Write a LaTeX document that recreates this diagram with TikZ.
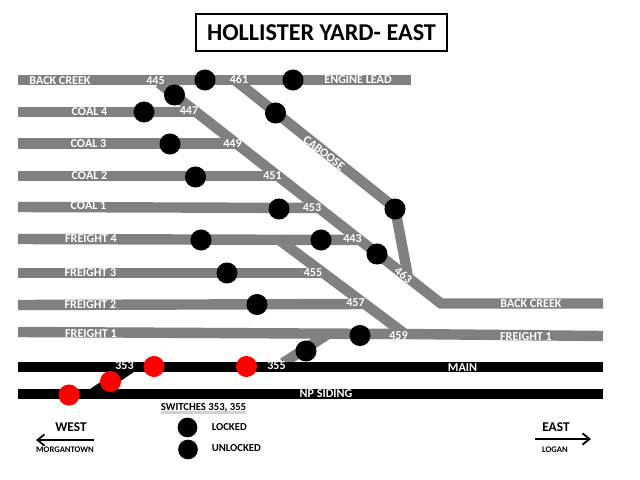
\documentclass[tikz,border=0pt]{standalone}
\usepackage{fontspec}
\setmainfont{Carlito}
\usetikzlibrary{arrows.meta}
\definecolor{trackgray}{HTML}{808080}

\begin{document}
\begin{tikzpicture}[
      x=0.025cm, y=-0.025cm,
      track/.style={draw=trackgray, line width=7.4pt},
      mainline/.style={draw=black, line width=7.4pt},
      sw/.style={circle, fill=black, inner sep=0pt, minimum size=15pt},
      swred/.style={circle, fill=red, inner sep=0pt, minimum size=15pt},
      lab/.style={font=\fontsize{8.6}{10}\selectfont\bfseries, text=white, inner sep=0pt},
      key/.style={font=\fontsize{7.6}{9}\selectfont\bfseries, inner sep=0pt},
      small/.style={font=\fontsize{6.1}{7}\selectfont\bfseries, inner sep=0pt},
      dirlab/.style={font=\fontsize{9.5}{11}\selectfont\bfseries, inner sep=0pt},
      dirarrow/.style={-{Straight Barb[length=5pt, width=8pt]}, line width=1.3pt},
    ]
    \useasboundingbox (0,0) rectangle (640,480);

    % ---- Title ----
    \node[draw, line width=1.6pt, font=\fontsize{17.2}{20}\selectfont\bfseries,
      inner sep=0pt, minimum width=178pt, minimum height=26pt] (title) at (321.5,32.5) {HOLLISTER YARD- EAST};

    % ---- Track ends ----
    \foreach \name/\x/\y in {
        BCw/18/80, ELe/411/80, TopA/159/83, TopB/235/80,
        Cfour/18/112, CfourE/197/112, Cthree/18/143.5, CthreeE/236/143.5,
        Ctwo/18/176, CtwoE/276/176, Cone/18/207, ConeE/317/208,
        Ffour/18/239, FfourE/358/240, Fthree/18/273, FthreeE/326/273,
        Ftwo/18/305, FtwoE/367/304, Fone/18/332, FoneM/405/334, FoneE/603/336,
        BCj/441/303.5, BCe/603/303.5, Kink/395/208, FdiagA/278/239,
        Kend/408/277, Xa/283/363, Xb/328/334, Mw/18/367, Me/603/367,
        Nw/18/394, Ne/603/394, Ya/92/394, Yb/132/367}{
        \coordinate (\name) at (\x,\y);
      }

    % ---- Gray tracks ----
    \draw[track] (BCw) -- (ELe);
    \draw[track] (Cfour) -- (CfourE);
    \draw[track] (Cthree) -- (CthreeE);
    \draw[track] (Ctwo) -- (CtwoE);
    \draw[track] (Cone) -- (ConeE);
    \draw[track] (Ffour) -- (FfourE);
    \draw[track] (Fthree) -- (FthreeE);
    \draw[track] (Ftwo) -- (FtwoE);
    \draw[track] (Fone) -- (FoneM) -- (FoneE);
    \draw[track] (TopA) -- (BCj) -- (BCe);
    \draw[track] (TopB) -- (Kink) -- (Kend);
    \draw[track] (FdiagA) -- (FoneM);
    \draw[track] (Xa) -- (Xb);

    % ---- Black tracks ----
    \draw[mainline] (Mw) -- (Me);
    \draw[mainline] (Nw) -- (Ne);
    \draw[mainline] (Ya) -- (Yb);

    % ---- Switches ----
    \foreach \name/\x/\y in {
        a/205/80, b/293/80, c/174.5/95, d/144/112, e/170/144, f/195.5/177,
        g/279/209, h/275.5/113, i/395/209, j/201/240, k/321/240, l/377/254,
        m/227/273, n/257/304.5, o/360/335.5, p/306/351}{
        \node[sw] (sw\name) at (\x,\y) {};
      }
    \foreach \name/\x/\y in {
        a/154/366.5, b/246.5/366.5, c/110.5/381.5, d/69/395}{
        \node[swred] (red\name) at (\x,\y) {};
      }

    % ---- Track labels ----
    \foreach \name/\x/\y/\lab in {
        bcw/60/80.5/BACK CREEK, el/358/79.5/ENGINE LEAD, cf/89.5/112/COAL 4,
        ct/88.5/144/COAL 3, ctw/89.5/176/COAL 2, co/88.5/206/COAL 1,
        ff/91/239/FREIGHT 4, fth/90.5/273/FREIGHT 3, ftw/90.5/305/FREIGHT 2,
        fo/91/333.5/FREIGHT 1, bce/531/303.5/BACK CREEK, foe/526/336.5/FREIGHT 1,
        main/462.5/368/MAIN, np/326/394/NP SIDING,
        n445/155.5/80.5/445, n461/239/79.5/461, n447/189/110.5/447,
        n449/232.5/144/449, n451/272.5/176/451, n453/312/208/453,
        n443/352.5/239/443, n455/313/273/455, n457/355.5/303/457,
        n459/398.5/335.5/459, n353/124.5/366/353, n355/276.5/366/355}{
        \node[lab] (lab\name) at (\x,\y) {\lab};
      }
    \node[lab, rotate=-38] (labcab) at (324,153) {CABOOSE};
    \node[lab, rotate=-38] (lab463) at (403.5,275) {463};

    % ---- Key ----
    \fill[gray!35] (161,410.5) rectangle (246,413.5);
    \node[key] (keyhead) at (203.5,407.5) {SWITCHES 353, 355};
    \node[sw, minimum size=14pt] (keylocked) at (187.5,427.5) {};
    \node[sw, minimum size=14pt] (keyunlocked) at (188,449.5) {};
    \node[key, anchor=west] (keylab) at (211.5,427.5) {LOCKED};
    \node[key, anchor=west] (keyunlab) at (211.5,448) {UNLOCKED};

    % ---- Directions ----
    \node[dirlab] (west) at (71,427) {WEST};
    \node[small] (morgan) at (65,450) {MORGANTOWN};
    \coordinate (wa) at (94,440);
    \coordinate (wb) at (36,440);
    \draw[dirarrow] (wa) -- (wb);
    \node[dirlab] (east) at (556,427) {EAST};
    \node[small] (logan) at (555,450) {LOGAN};
    \coordinate (ea) at (535,439);
    \coordinate (eb) at (591,439);
    \draw[dirarrow] (ea) -- (eb);

  \end{tikzpicture}
\end{document}
